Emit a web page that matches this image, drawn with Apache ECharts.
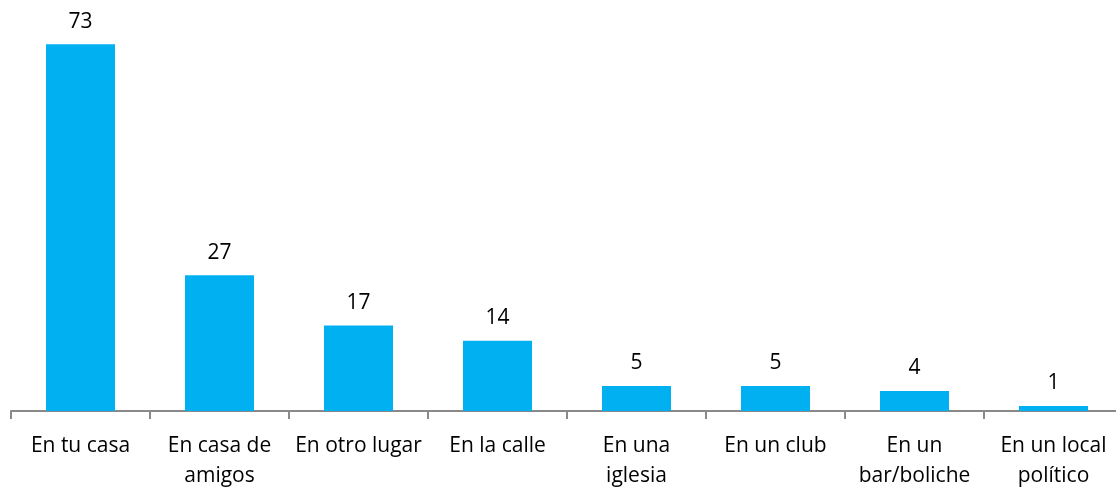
<!DOCTYPE html>
<html>
<head>
<meta charset="utf-8">
<script src="https://cdn.jsdelivr.net/npm/echarts@6/dist/echarts.min.js"></script>
<style>
  html, body { margin: 0; padding: 0; background: #fff; }
  #chart { width: 1116px; height: 488px; }
</style>
</head>
<body>
<div id="chart"></div>
<script>
const categories = [
  'En tu casa', 'En casa de\namigos', 'En otro lugar', 'En la calle',
  'En una\niglesia', 'En un club', 'En un\nbar/boliche', 'En un local\npolítico'
]
const values = [73, 27, 17, 14, 5, 5, 4, 1]

const chart = echarts.init(document.getElementById('chart'))
chart.setOption({
  animation: false,
  grid: {
    left: 11,
    top: 9,
    width: 1112,
    bottom: 77,
    containLabel: false,
    outerBoundsMode: 'none'
  },
  xAxis: {
    type: 'category',
    data: categories,
    axisLine: { lineStyle: { color: '#898989', width: 2 } },
    axisTick: { show: true, length: 8, lineStyle: { color: '#898989', width: 2 } },
    axisLabel: {
      color: '#000',
      fontFamily: 'Open Sans',
      fontSize: 21,
      lineHeight: 30,
      margin: 20,
      interval: 0
    }
  },
  yAxis: {
    type: 'value',
    min: 0,
    max: 80,
    show: false,
    splitLine: { show: false }
  },
  series: [{
    type: 'bar',
    data: values,
    barWidth: 69,
    itemStyle: { color: '#00B0F0' },
    label: {
      show: true,
      position: 'top',
      distance: 12,
      color: '#000',
      fontFamily: 'Open Sans',
      fontSize: 21
    }
  }]
})
</script>
</body>
</html>
